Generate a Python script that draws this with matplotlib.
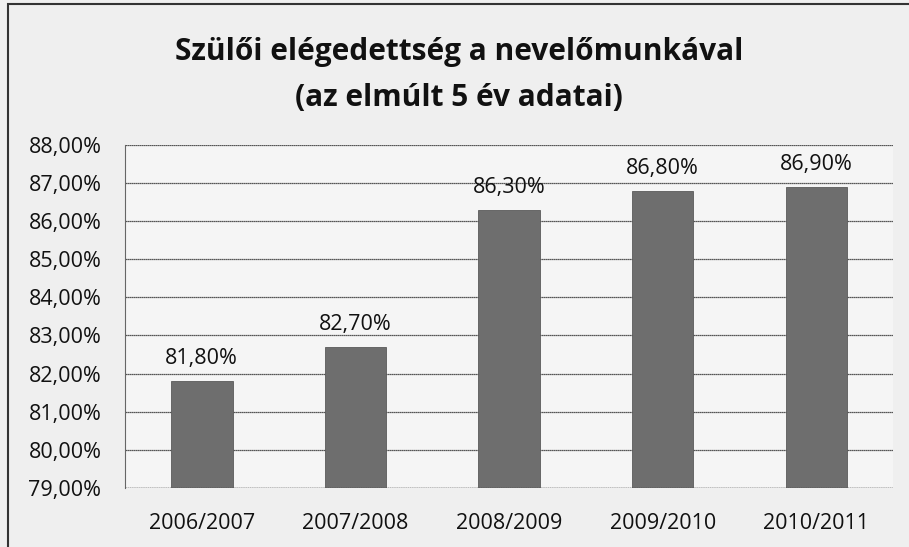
import matplotlib
matplotlib.use("Agg")
import matplotlib.pyplot as plt
from matplotlib.ticker import FuncFormatter, MultipleLocator
from matplotlib.patches import Rectangle

categories = ["2006/2007", "2007/2008", "2008/2009", "2009/2010", "2010/2011"]
values = [81.8, 82.7, 86.3, 86.8, 86.9]
title_lines = ["Szülői elégedettség a nevelőmunkával", "(az elmúlt 5 év adatai)"]

plt.rcParams['font.family'] = ['Open Sans', 'DejaVu Sans']

fig = plt.figure(figsize=(9.09, 5.47), dpi=100)
fig.patch.set_facecolor('#efefef')
fig.patches.append(Rectangle((8 / 909, -0.02), 1.0, 1.0 - 4 / 547 + 0.02, transform=fig.transFigure,
                             fill=False, edgecolor='#333333', linewidth=1.5))

ax = fig.add_axes([0.1375, 0.108, 0.845, 0.627])
ax.set_facecolor('#f5f5f5')
x = range(len(categories))
ax.bar(x, values, width=0.4, color='#6e6e6e', edgecolor='#5a5a5a', linewidth=0.6,
       zorder=3)
ax.set_ylim(79, 88)
ax.set_xlim(-0.5, len(categories) - 0.5)
ax.yaxis.set_major_locator(MultipleLocator(1))
ax.yaxis.set_major_formatter(FuncFormatter(lambda v, p: f"{v:.2f}%".replace('.', ',')))
ax.grid(axis='y', color='#222222', linewidth=0.9, linestyle=(0, (1, 0.6)), zorder=1)
ax.set_xticks(list(x))
ax.set_xticklabels(categories)
ax.tick_params(axis='both', length=0, labelsize=15.5, colors='#111111')
ax.tick_params(axis='x', pad=18)
ax.tick_params(axis='y', pad=17)
for s in ['top', 'right', 'bottom']:
    ax.spines[s].set_visible(False)
ax.spines['left'].set_color('#666666')
ax.spines['left'].set_linestyle((0, (1, 1)))
ax.axhline(79, color='#333333', linewidth=1.0, linestyle=(0, (1, 0.6)), zorder=4)

for xi, v in zip(x, values):
    ax.annotate(f"{v:.2f}%".replace('.', ','), (xi, v), xytext=(0, 8.5),
                textcoords='offset points', ha='center', va='bottom',
                fontsize=15.5, color='#111111')

fig.text(0.505, 0.905, title_lines[0], ha='center', va='center', fontsize=21.5,
         fontweight='bold', color='#111111')
fig.text(0.505, 0.82, title_lines[1], ha='center', va='center', fontsize=21.5,
         fontweight='bold', color='#111111')

fig.savefig("out.png", dpi=100, facecolor=fig.get_facecolor())
